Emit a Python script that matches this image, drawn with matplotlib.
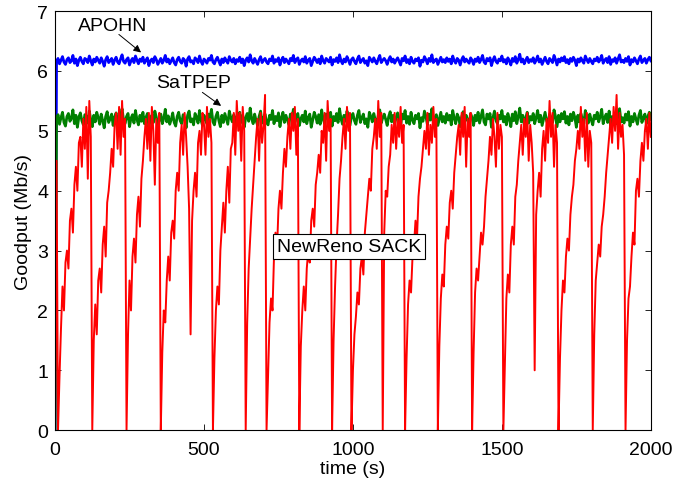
import numpy as np
import matplotlib
matplotlib.use('Agg')
import matplotlib.pyplot as plt

plt.rcParams['font.family'] = ['Liberation Sans', 'DejaVu Sans']
plt.rcParams['font.size'] = 14

# APOHN goodput, sampled every 5 s (t = 0 .. 2000)
apohn_goodput = [0.0,
    6.16, 6.21, 6.12, 6.18, 6.24, 6.15, 6.11, 6.19, 6.22, 6.14, 6.17, 6.26, 6.13, 6.20, 6.09, 6.18, 6.23, 6.16, 6.12, 6.21,
    6.19, 6.14, 6.25, 6.17, 6.10, 6.20, 6.15, 6.23, 6.18, 6.13, 6.22, 6.16, 6.08, 6.19, 6.24, 6.14, 6.17, 6.21, 6.11, 6.18,
    6.23, 6.15, 6.12, 6.20, 6.27, 6.16, 6.13, 6.19, 6.22, 6.10, 6.17, 6.21, 6.14, 6.25, 6.18, 6.12, 6.20, 6.16, 6.23, 6.13,
    6.18, 6.22, 6.09, 6.17, 6.20, 6.14, 6.24, 6.19, 6.11, 6.16, 6.21, 6.13, 6.18, 6.26, 6.15, 6.20, 6.12, 6.17, 6.22, 6.14,
    6.10, 6.19, 6.23, 6.16, 6.13, 6.21, 6.18, 6.08, 6.20, 6.24, 6.15, 6.17, 6.12, 6.22, 6.19, 6.14, 6.25, 6.16, 6.11, 6.20,
    6.17, 6.13, 6.21, 6.18, 6.26, 6.15, 6.12, 6.19, 6.23, 6.16, 6.10, 6.20, 6.14, 6.22, 6.17, 6.13, 6.24, 6.18, 6.15, 6.21,
    6.12, 6.19, 6.16, 6.23, 6.14, 6.20, 6.09, 6.18, 6.22, 6.15, 6.27, 6.17, 6.13, 6.21, 6.16, 6.11, 6.19, 6.24, 6.14, 6.18,
    6.21, 6.15, 6.12, 6.20, 6.17, 6.25, 6.13, 6.19, 6.16, 6.22, 6.10, 6.18, 6.23, 6.14, 6.20, 6.16, 6.12, 6.21, 6.17, 6.26,
    6.14, 6.19, 6.22, 6.11, 6.17, 6.20, 6.15, 6.24, 6.13, 6.18, 6.21, 6.09, 6.16, 6.23, 6.19, 6.14, 6.20, 6.12, 6.25, 6.17,
    6.13, 6.21, 6.18, 6.15, 6.23, 6.10, 6.19, 6.16, 6.22, 6.14, 6.27, 6.17, 6.12, 6.20, 6.15, 6.24, 6.18, 6.11, 6.19, 6.22,
    6.16, 6.12, 6.20, 6.25, 6.14, 6.18, 6.21, 6.13, 6.17, 6.09, 6.23, 6.19, 6.15, 6.22, 6.16, 6.12, 6.20, 6.26, 6.14, 6.18,
    6.21, 6.17, 6.11, 6.19, 6.24, 6.15, 6.20, 6.13, 6.18, 6.22, 6.16, 6.10, 6.21, 6.17, 6.25, 6.14, 6.19, 6.12, 6.23, 6.16,
    6.13, 6.20, 6.17, 6.22, 6.08, 6.18, 6.15, 6.24, 6.19, 6.12, 6.21, 6.16, 6.27, 6.14, 6.18, 6.20, 6.11, 6.17, 6.23, 6.15,
    6.19, 6.14, 6.22, 6.16, 6.20, 6.12, 6.25, 6.17, 6.13, 6.21, 6.18, 6.10, 6.19, 6.24, 6.15, 6.20, 6.16, 6.13, 6.22, 6.18,
    6.11, 6.20, 6.16, 6.23, 6.14, 6.19, 6.26, 6.15, 6.12, 6.21, 6.17, 6.22, 6.09, 6.18, 6.24, 6.16, 6.13, 6.20, 6.17, 6.25,
    6.15, 6.19, 6.12, 6.22, 6.17, 6.10, 6.21, 6.16, 6.24, 6.13, 6.19, 6.28, 6.15, 6.20, 6.12, 6.18, 6.23, 6.14, 6.19, 6.16,
    6.22, 6.13, 6.18, 6.25, 6.15, 6.20, 6.11, 6.17, 6.23, 6.16, 6.12, 6.21, 6.18, 6.14, 6.26, 6.19, 6.10, 6.20, 6.15, 6.22,
    6.17, 6.24, 6.14, 6.19, 6.12, 6.21, 6.16, 6.23, 6.18, 6.09, 6.20, 6.15, 6.22, 6.17, 6.13, 6.25, 6.19, 6.14, 6.21, 6.16,
    6.12, 6.20, 6.17, 6.23, 6.15, 6.19, 6.26, 6.13, 6.18, 6.21, 6.14, 6.24, 6.11, 6.19, 6.16, 6.22, 6.13, 6.20, 6.27, 6.15,
    6.18, 6.14, 6.21, 6.16, 6.24, 6.10, 6.19, 6.15, 6.22, 6.17, 6.12, 6.20, 6.25, 6.14, 6.18, 6.21, 6.13, 6.19, 6.23, 6.17]

# SaTPEP goodput, sampled every 5 s
satpep_goodput = [0.0,
    5.18, 5.27, 5.11, 5.22, 5.31, 5.14, 5.08, 5.24, 5.29, 5.16, 5.21, 5.35, 5.12, 5.26, 5.06, 5.23, 5.30, 5.17, 5.10, 5.27,
    5.25, 5.13, 5.33, 5.19, 5.07, 5.26, 5.15, 5.31, 5.22, 5.11, 5.28, 5.17, 5.05, 5.24, 5.32, 5.14, 5.20, 5.28, 5.09, 5.23,
    5.30, 5.16, 5.10, 5.25, 5.37, 5.18, 5.12, 5.24, 5.29, 5.07, 5.21, 5.27, 5.13, 5.34, 5.19, 5.10, 5.26, 5.16, 5.31, 5.12,
    5.22, 5.29, 5.06, 5.20, 5.26, 5.14, 5.33, 5.23, 5.09, 5.18, 5.28, 5.12, 5.21, 5.36, 5.15, 5.25, 5.11, 5.19, 5.30, 5.14,
    5.08, 5.24, 5.31, 5.17, 5.12, 5.27, 5.21, 5.05, 5.26, 5.33, 5.15, 5.20, 5.10, 5.29, 5.23, 5.13, 5.34, 5.18, 5.09, 5.26,
    5.20, 5.12, 5.28, 5.22, 5.36, 5.15, 5.10, 5.24, 5.31, 5.17, 5.07, 5.26, 5.14, 5.29, 5.20, 5.11, 5.33, 5.22, 5.15, 5.27,
    5.11, 5.24, 5.18, 5.31, 5.14, 5.26, 5.06, 5.22, 5.29, 5.16, 5.38, 5.20, 5.12, 5.28, 5.17, 5.09, 5.24, 5.33, 5.13, 5.22,
    5.28, 5.15, 5.10, 5.26, 5.19, 5.34, 5.12, 5.24, 5.17, 5.30, 5.07, 5.22, 5.31, 5.14, 5.26, 5.18, 5.10, 5.28, 5.20, 5.36,
    5.14, 5.23, 5.29, 5.09, 5.20, 5.26, 5.15, 5.33, 5.12, 5.22, 5.28, 5.06, 5.18, 5.31, 5.24, 5.13, 5.27, 5.11, 5.35, 5.19,
    5.12, 5.28, 5.22, 5.15, 5.31, 5.08, 5.24, 5.17, 5.29, 5.14, 5.37, 5.20, 5.11, 5.26, 5.16, 5.33, 5.22, 5.09, 5.24, 5.29,
    5.17, 5.11, 5.26, 5.34, 5.14, 5.22, 5.28, 5.12, 5.20, 5.06, 5.31, 5.24, 5.15, 5.29, 5.18, 5.10, 5.26, 5.35, 5.13, 5.22,
    5.28, 5.19, 5.09, 5.24, 5.32, 5.15, 5.26, 5.12, 5.22, 5.30, 5.17, 5.07, 5.28, 5.20, 5.34, 5.13, 5.24, 5.11, 5.31, 5.18,
    5.12, 5.26, 5.20, 5.29, 5.05, 5.22, 5.16, 5.33, 5.24, 5.10, 5.28, 5.18, 5.37, 5.14, 5.22, 5.27, 5.09, 5.20, 5.31, 5.15,
    5.24, 5.13, 5.29, 5.18, 5.26, 5.10, 5.34, 5.21, 5.12, 5.28, 5.22, 5.07, 5.24, 5.32, 5.15, 5.26, 5.18, 5.11, 5.29, 5.22,
    5.09, 5.26, 5.17, 5.31, 5.13, 5.24, 5.35, 5.15, 5.10, 5.28, 5.20, 5.29, 5.06, 5.22, 5.33, 5.17, 5.12, 5.26, 5.20, 5.34,
    5.15, 5.24, 5.10, 5.29, 5.20, 5.07, 5.28, 5.17, 5.32, 5.12, 5.24, 5.38, 5.15, 5.26, 5.10, 5.22, 5.31, 5.13, 5.24, 5.18,
    5.29, 5.12, 5.22, 5.34, 5.15, 5.26, 5.09, 5.20, 5.31, 5.17, 5.11, 5.28, 5.22, 5.14, 5.35, 5.24, 5.07, 5.26, 5.15, 5.29,
    5.20, 5.32, 5.13, 5.24, 5.10, 5.28, 5.17, 5.31, 5.22, 5.06, 5.26, 5.15, 5.29, 5.20, 5.12, 5.34, 5.24, 5.13, 5.28, 5.18,
    5.10, 5.26, 5.20, 5.31, 5.15, 5.24, 5.36, 5.12, 5.22, 5.28, 5.14, 5.33, 5.09, 5.24, 5.17, 5.29, 5.12, 5.26, 5.37, 5.15,
    5.22, 5.13, 5.28, 5.18, 5.32, 5.08, 5.24, 5.15, 5.29, 5.20, 5.11, 5.26, 5.34, 5.14, 5.22, 5.28, 5.12, 5.24, 5.31, 5.19]

# NewReno SACK goodput: (start time, values every 5 s), one sawtooth cycle per entry
newreno_cycles = [
    (0, [0.0, 4.5, 0.0, 0.9, 1.7, 2.4, 2.0, 2.8, 3.0, 2.7, 3.5, 3.7, 3.3, 4.1, 4.4, 4.0, 4.8, 4.9, 4.4, 5.2, 4.7, 5.4, 4.2, 5.5, 4.9]),
    (125, [0.0, 1.5, 2.1, 1.6, 2.5, 2.7, 2.3, 3.1, 3.4, 2.9, 3.8, 4.0, 4.3, 4.7, 4.4, 5.1, 5.3, 4.7, 5.4, 4.6, 5.5, 4.9, 5.2]),
    (240, [0.0, 1.6, 2.5, 2.0, 2.9, 3.2, 2.8, 3.6, 3.9, 3.4, 4.2, 4.5, 4.9, 5.2, 4.7, 5.3, 4.5, 5.4, 5.0, 4.1, 5.2, 4.8, 5.3]),
    (355, [0.0, 1.3, 2.0, 1.8, 2.5, 2.9, 2.5, 3.3, 3.5, 3.2, 4.0, 4.3, 4.0, 4.8, 5.1, 4.6, 5.3, 4.9, 4.4, 3.7, 1.6,
           3.5, 4.0, 4.3, 3.9, 4.8, 5.0, 4.6, 5.3, 5.1, 4.6, 5.4, 4.9, 5.2, 4.8]),
    (530, [0.0, 1.2, 2.0, 2.4, 2.1, 3.0, 3.4, 3.8, 3.3, 4.0, 4.4, 3.8, 4.7, 4.8, 5.3, 4.6, 5.5, 5.0, 5.3, 4.5, 5.4, 5.0]),
    (640, [0.0, 1.8, 2.7, 3.2, 3.7, 4.1, 4.5, 4.9, 5.2, 4.5, 5.3, 4.8, 5.1, 5.6]),
    (710, [0.0, 0.9, 1.8, 2.2, 2.0, 2.9, 3.3, 3.0, 3.7, 4.0, 3.7, 4.3, 4.7, 4.4, 4.9, 5.2, 4.7, 5.3, 5.0, 5.4, 4.6, 5.2]),
    (820, [0.0, 1.4, 2.0, 2.4, 2.0, 2.7, 3.0, 2.8, 3.5, 3.7, 3.4, 4.1, 4.3, 4.6, 4.3, 5.0, 4.8, 5.3, 4.5, 5.5, 5.0, 5.2]),
    (930, [0.0, 1.5, 2.4, 3.1, 3.6, 4.2, 4.5, 4.9, 5.2, 4.7, 5.4, 5.0, 5.3]),
    (995, [0.0, 1.0, 1.6, 1.9, 2.3, 2.1, 2.7, 2.9, 2.6, 3.3, 3.6, 3.9, 4.2, 4.0, 4.7, 4.9, 5.2, 4.7, 5.5, 4.9, 5.3]),
    (1100, [0.0, 3.3, 4.0, 3.9, 4.4, 4.6, 5.1, 4.8, 5.3, 4.7, 5.2, 4.9, 5.4, 4.8, 5.1]),
    (1175, [0.0, 1.2, 2.1, 2.5, 2.3, 2.9, 3.1, 3.5, 3.2, 3.9, 4.2, 4.4, 4.7, 5.0, 4.7, 5.3, 4.6, 5.1, 4.8, 5.4, 4.9, 5.2]),
    (1285, [0.0, 1.4, 2.2, 2.6, 2.4, 3.1, 3.4, 3.2, 3.8, 4.0, 3.7, 4.3, 4.6, 4.9, 5.1, 4.6, 5.3, 4.9, 5.4, 4.4, 5.2, 4.9, 5.3]),
    (1400, [0.0, 1.3, 2.3, 2.7, 2.5, 2.9, 3.3, 3.1, 3.4, 3.9, 4.2, 4.5, 4.9, 4.6, 5.2, 4.9, 4.4, 5.3, 4.7, 5.1, 4.9]),
    (1505, [0.0, 1.1, 2.2, 2.6, 2.3, 3.1, 3.4, 3.1, 3.9, 4.1, 4.5, 4.8, 5.1, 4.6, 5.2, 4.9, 5.3, 4.5, 5.1, 4.8, 4.3, 1.0,
            3.6, 4.0, 4.3, 3.9, 4.7, 5.0, 4.5, 5.2, 4.8, 5.5, 4.9, 5.3, 4.4, 5.1, 4.8]),
    (1690, [0.0, 1.2, 2.0, 2.5, 2.3, 2.9, 3.2, 3.0, 3.6, 3.9, 4.1, 4.5, 4.7, 5.0, 4.7, 5.4, 4.9, 5.2, 4.5, 5.3, 4.4, 5.0, 4.8]),
    (1805, [0.0, 1.6, 2.5, 2.8, 3.1, 2.9, 3.4, 3.6, 3.9, 4.3, 4.6, 4.9, 5.2, 4.8, 5.4, 5.0, 5.6, 4.7, 5.3, 4.9, 5.1, 4.6]),
    (1915, [0.0, 1.5, 2.2, 2.4, 2.9, 3.3, 3.1, 4.0, 4.2, 3.9, 4.5, 4.8, 4.5, 5.0, 5.2, 4.7, 5.3, 4.9]),
]

x_ticks = [0, 500, 1000, 1500, 2000]
y_ticks = [0, 1, 2, 3, 4, 5, 6, 7]

t_5 = np.arange(len(apohn_goodput)) * 5
newreno_t = np.concatenate([start + 5 * np.arange(len(v)) for start, v in newreno_cycles])
newreno_v = np.concatenate([v for _, v in newreno_cycles])

fig = plt.figure(figsize=(6.88, 4.85), dpi=100)
ax = fig.add_axes([0.080, 0.111, 0.866, 0.864])

ax.plot(t_5, apohn_goodput, color=(0, 0, 1), lw=2.0)
ax.plot(t_5, satpep_goodput, color=(0, 0.5, 0), lw=2.0)
ax.plot(newreno_t, newreno_v, color=(1, 0, 0), lw=1.4)

ax.set_xlim(0, 2000)
ax.set_ylim(0, 7)
ax.set_xticks(x_ticks)
ax.set_yticks(y_ticks)
ax.tick_params(direction='in', top=True, right=True, length=4, width=0.6)
ax.tick_params(axis='x', pad=8)
ax.tick_params(axis='y', pad=5)
for s in ax.spines.values():
    s.set_linewidth(0.8)
ax.set_xlabel('time (s)', labelpad=1)
ax.set_ylabel('Goodput (Mb/s)', labelpad=4)

# labels with arrows
ax.text(193, 6.76, 'APOHN', ha='center', va='center')
ax.annotate('', xy=(296, 6.28), xytext=(207, 6.64),
            arrowprops=dict(arrowstyle='-|>', color='k', lw=0.7, mutation_scale=11))
ax.text(466, 5.80, 'SaTPEP', ha='center', va='center')
ax.annotate('', xy=(565, 5.39), xytext=(487, 5.67),
            arrowprops=dict(arrowstyle='-|>', color='k', lw=0.7, mutation_scale=11))
ax.text(987, 3.07, 'NewReno SACK', ha='center', va='center',
        bbox=dict(boxstyle='square,pad=0.2', fc='white', ec='black', lw=0.8))

fig.savefig('out.png', dpi=100)
